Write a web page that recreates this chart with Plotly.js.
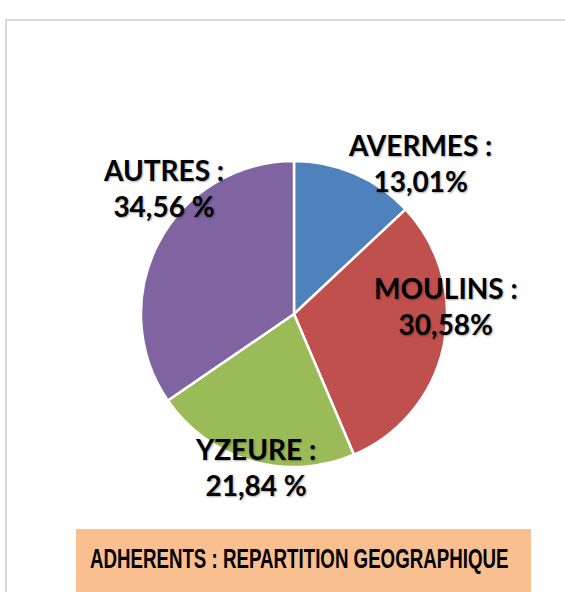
<!DOCTYPE html>
<html><head><meta charset="utf-8">
<script src="https://cdn.plot.ly/plotly-3.0.1.min.js"></script>
<style>html,body{margin:0;padding:0;background:#fff;}#chart{width:565px;height:592px;}</style>
</head><body><div id="chart"></div>
<script>
const categories = ["AVERMES", "MOULINS", "YZEURE", "AUTRES"];
const values = [13.01, 30.58, 21.84, 34.56];
const valueLabels = ["13,01%", "30,58%", "21,84 %", "34,56 %"];
const colors = ["#4F81BD", "#C0504D", "#9BBB59", "#8064A2"];
const titleText = "ADHERENTS : REPARTITION GEOGRAPHIQUE";

const W = 565, H = 592;
const px = x => x / W;
const py = y => 1 - y / H;

const cx = 294, cy = 314, r = 153;
const labelPos = [[420, 163], [446, 306], [255, 467], [163, 188]];

const trace = {
  type: "pie",
  values: values,
  labels: categories,
  marker: {colors: colors, line: {color: "#ffffff", width: 2.5}},
  sort: false,
  direction: "clockwise",
  rotation: 0,
  textinfo: "none",
  hoverinfo: "label+percent",
  domain: {x: [px(cx - r), px(cx + r)], y: [py(cy + r), py(cy - r)]},
  showlegend: false
};

const labelFont = {family: "Lato, 'Open Sans', sans-serif", size: 28, color: "#000000", weight: 700, shadow: "1px 1px 2px rgba(0,0,0,0.35)"};
const annotations = categories.map((c, i) => ({
  xref: "paper", yref: "paper",
  x: px(labelPos[i][0]), y: py(labelPos[i][1]),
  xanchor: "center", yanchor: "middle",
  text: c + " :<br>" + valueLabels[i],
  showarrow: false,
  align: "center",
  font: labelFont
}));
annotations.push({
  xref: "paper", yref: "paper",
  x: px(298.5), y: py(558),
  xanchor: "center", yanchor: "middle",
  text: titleText, showarrow: false,
  font: {family: "'Liberation Sans', Arial, sans-serif", size: 28, color: "#000000", weight: 700}
});

const layout = {
  width: W, height: H,
  margin: {l: 0, r: 0, t: 0, b: 0},
  paper_bgcolor: "#ffffff",
  shapes: [
    {type: "rect", xref: "paper", yref: "paper", x0: px(76), x1: px(531), y0: py(592), y1: py(529), fillcolor: "#F9BF8F", line: {width: 0}, layer: "below"},
    {type: "line", xref: "paper", yref: "paper", x0: px(5), x1: px(565), y0: py(20), y1: py(20), line: {color: "#D9D9D9", width: 2}},
    {type: "line", xref: "paper", yref: "paper", x0: px(6), x1: px(6), y0: py(20), y1: py(592), line: {color: "#D9D9D9", width: 2}}
  ],
  annotations: annotations
};

Plotly.newPlot("chart", [trace], layout, {displayModeBar: false, staticPlot: true}).then(gd => {
  // condense the title horizontally to mimic a narrow font
  const groups = gd.querySelectorAll(".annotation");
  const g = groups[groups.length - 1];
  const t = g.querySelector("text");
  const bb = t.getBBox();
  const target = 419;
  const s = target / bb.width;
  const mid = bb.x + bb.width / 2;
  t.setAttribute("transform", "translate(" + mid + ",0) scale(" + s + ",1) translate(" + (-mid) + ",0)");
});
</script></body></html>
